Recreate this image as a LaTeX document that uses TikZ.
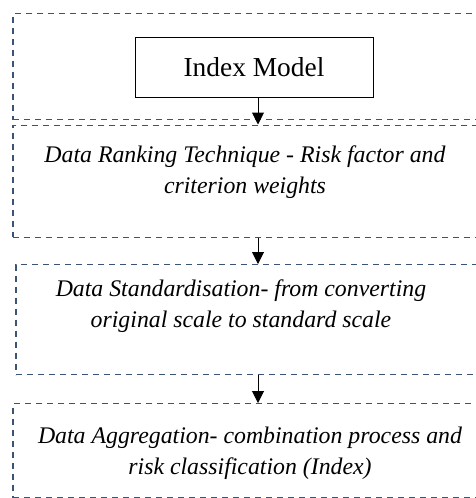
\documentclass[tikz,border=0pt]{standalone}
\usepackage{fontspec}
\setmainfont{Liberation Serif}
\usetikzlibrary{arrows.meta}
\definecolor{dashblue}{HTML}{3B5473}
\tikzset{
  stage/.style={draw=dashblue, line width=1.4pt, dash pattern=on 6pt off 5pt, minimum width=490pt, inner sep=0pt, anchor=north},
  modelbox/.style={draw=black, line width=0.9pt, minimum width=238pt, minimum height=60pt, inner sep=0pt, font=\fontsize{27.4}{31}\selectfont},
  label/.style={align=center, inner sep=0pt, font=\fontsize{23.8}{31}\selectfont\itshape},
  flow/.style={draw=black, line width=1pt, -{Triangle[length=12pt,width=12pt]}}
}
\begin{document}
\begin{tikzpicture}[x=1pt,y=-1pt]
\clip (0,0) rectangle (476,498);
\fill[white] (0,0) rectangle (476,498);
\node[stage, minimum height=106pt] (outer) at (258,13) {};
\node[modelbox] (model) at (254,67) {Index Model};
\node[stage, minimum height=112pt] (rank) at (258,124.5) {};
\node[stage, minimum height=110pt, minimum width=484pt] (std) at (258,264) {};
\node[stage, minimum height=94pt] (agg) at (258,403) {};
\node[label] (ranktext) at (245,172) {Data Ranking Technique - Risk factor and\\criterion weights};
\node[label] (stdtext) at (241,306) {Data Standardisation- from converting\\original scale to standard scale};
\node[label] (aggtext) at (250,453) {Data Aggregation- combination process and\\risk classification (Index)};
\draw[flow] (model.south -| rank.north) -- (rank.north);
\draw[flow] (rank.south) -- (std.north);
\draw[flow] (std.south) -- (agg.north);
\end{tikzpicture}
\end{document}
